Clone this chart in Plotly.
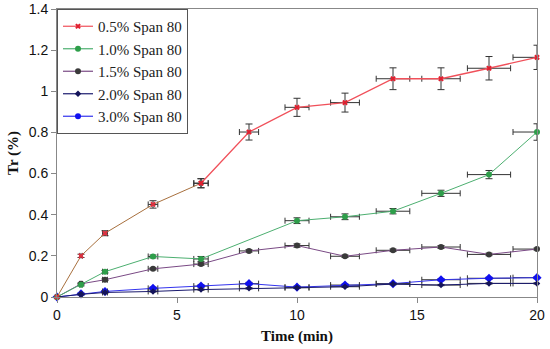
import plotly.graph_objects as go

time_all = [0, 1, 2, 4, 6, 8, 10, 12, 14, 16, 18, 20]
time_10 = [0, 1, 2, 4, 6, 10, 12, 14, 16, 18, 20]

tr_05 = [0, 0.20, 0.31, 0.45, 0.553, 0.802, 0.922, 0.945, 1.061, 1.061, 1.112, 1.165]
tr_10 = [0, 0.06, 0.123, 0.197, 0.185, 0.371, 0.39, 0.417, 0.504, 0.595, 0.802]
tr_15 = [0, 0.064, 0.084, 0.137, 0.16, 0.224, 0.25, 0.198, 0.227, 0.243, 0.207, 0.233]
tr_20 = [0, 0.013, 0.022, 0.027, 0.036, 0.042, 0.045, 0.05, 0.063, 0.058, 0.066, 0.066]
tr_30 = [0, 0.015, 0.027, 0.042, 0.053, 0.065, 0.048, 0.058, 0.065, 0.084, 0.091, 0.094]

xerr_all = [0, 0.05, 0.1, 0.2, 0.3, 0.4, 0.5, 0.6, 0.7, 0.8, 0.9, 1.0]
xerr_10 = [0, 0.05, 0.1, 0.2, 0.3, 0.5, 0.6, 0.7, 0.8, 0.9, 1.0]
yerr_05 = [0, 0.008, 0.012, 0.018, 0.022, 0.039, 0.044, 0.046, 0.053, 0.053, 0.057, 0.059]
yerr_10 = [0, 0.006, 0.006, 0.007, 0.012, 0.014, 0.014, 0.013, 0.015, 0.02, 0.04]
yerr_15 = [0, 0.004, 0.004, 0.005, 0.006, 0.006, 0.008, 0.006, 0.006, 0.007, 0.006, 0.005]
yerr_20 = [0, 0.003, 0.003, 0.003, 0.003, 0.003, 0.003, 0.003, 0.003, 0.003, 0.003, 0.003]
yerr_30 = [0, 0.004, 0.005, 0.006, 0.006, 0.006, 0.005, 0.005, 0.005, 0.005, 0.005, 0.005]

names = ["0.5% Span 80", "1.0% Span 80", "1.5% Span 80", "2.0% Span 80", "3.0% Span 80"]

ERR_COLOR = "#333333"


def ex(arr):
    return dict(type="data", array=arr, visible=True, color=ERR_COLOR, thickness=1, width=3)


def ey(arr):
    return dict(type="data", array=arr, visible=True, color=ERR_COLOR, thickness=1, width=3.5)


fig = go.Figure()

# 3.0%
fig.add_trace(go.Scatter(x=time_all, y=tr_30, mode="lines+markers", name=names[4],
                         line=dict(color="#3333EE", width=1),
                         marker=dict(symbol="diamond", size=7, color="#1010F0"),
                         error_x=ex(xerr_all), error_y=ey(yerr_30), cliponaxis=False, showlegend=False))
# 2.0%
fig.add_trace(go.Scatter(x=time_all, y=tr_20, mode="lines+markers", name=names[3],
                         line=dict(color="#1A1A6E", width=1),
                         marker=dict(symbol="diamond", size=5, color="#14145A"),
                         error_x=ex(xerr_all), error_y=ey(yerr_20), cliponaxis=False, showlegend=False))
# 1.5%
fig.add_trace(go.Scatter(x=time_all, y=tr_15, mode="lines+markers", name=names[2],
                         line=dict(color="#7A4A85", width=1),
                         marker=dict(symbol="circle", size=6, color="#3A3A3A"),
                         error_x=ex(xerr_all), error_y=ey(yerr_15), cliponaxis=False, showlegend=False))
# 1.0%
fig.add_trace(go.Scatter(x=time_10, y=tr_10, mode="lines+markers", name=names[1],
                         line=dict(color="#4CAF70", width=1),
                         marker=dict(symbol="circle", size=6, color="#2E9E4A"),
                         error_x=ex(xerr_10), error_y=ey(yerr_10), cliponaxis=False, showlegend=False))
# 0.5% early segment (brownish line)
fig.add_trace(go.Scatter(x=time_all[:5], y=tr_05[:5], mode="lines+markers", name=names[0],
                         line=dict(color="#A8703E", width=1),
                         marker=dict(symbol="x", size=5, color="#E03040"),
                         error_x=ex(xerr_all[:5]), error_y=ey(yerr_05[:5]), cliponaxis=False, showlegend=False))
# 0.5% later segment
fig.add_trace(go.Scatter(x=time_all[4:], y=tr_05[4:], mode="lines+markers", name=names[0],
                         line=dict(color="#F0505A", width=1.3),
                         marker=dict(symbol="x", size=5, color="#E02030"),
                         error_x=ex(xerr_all[4:]), error_y=ey(yerr_05[4:]), cliponaxis=False, showlegend=False))

# legend entries (in reference order)
leg_styles = [
    ("#F0505A", "x", "#E02030", 5),
    ("#4CAF70", "circle", "#2E9E4A", 6),
    ("#7A4A85", "circle", "#3A3A3A", 6),
    ("#1A1A6E", "diamond", "#14145A", 5),
    ("#3333EE", "circle", "#1010F0", 6),
]
for nm, (lc, sym, mc, ms) in zip(names, leg_styles):
    fig.add_trace(go.Scatter(x=[None], y=[None], mode="lines+markers", name=nm,
                             line=dict(color=lc, width=1.2),
                             marker=dict(symbol=sym, size=ms, color=mc)))

fig.update_layout(
    width=550, height=349,
    margin=dict(l=57, r=13, t=9, b=52, autoexpand=False),
    paper_bgcolor="white", plot_bgcolor="white",
    showlegend=True,
    legend=dict(x=0, y=1.0, xanchor="left", yanchor="top",
                bordercolor="#555555", borderwidth=1, bgcolor="white",
                font=dict(family="Liberation Serif", size=15, color="#222222"),
                tracegroupgap=0, itemwidth=30),
    font=dict(family="Liberation Sans", size=14, color="#111111"),
)
fig.update_xaxes(range=[0, 20], tickvals=[0, 5, 10, 15, 20], ticks="outside", ticklen=5,
                 tickcolor="#888888", showline=True, linecolor="#888888", linewidth=1,
                 mirror=True, showgrid=False, zeroline=False, automargin=False,
                 tickfont=dict(family="Liberation Sans", size=14, color="#111111"),
                 title=dict(text="<b>Time (min)</b>", standoff=8,
                            font=dict(family="Liberation Serif", size=15, color="#111111")))
fig.update_yaxes(range=[0, 1.4], tickvals=[0, 0.2, 0.4, 0.6, 0.8, 1.0, 1.2, 1.4], ticks="outside", ticklen=5,
                 tickcolor="#888888", showline=True, linecolor="#888888", linewidth=1,
                 mirror=True, showgrid=False, zeroline=False, automargin=False,
                 tickfont=dict(family="Liberation Sans", size=14, color="#111111"),
                 title=dict(text="<b>Tr (%)</b>", standoff=6,
                            font=dict(family="Liberation Serif", size=15, color="#111111")))

fig.write_html("out.html", config={"displayModeBar": False},
               post_script="document.body.style.margin='0';")
